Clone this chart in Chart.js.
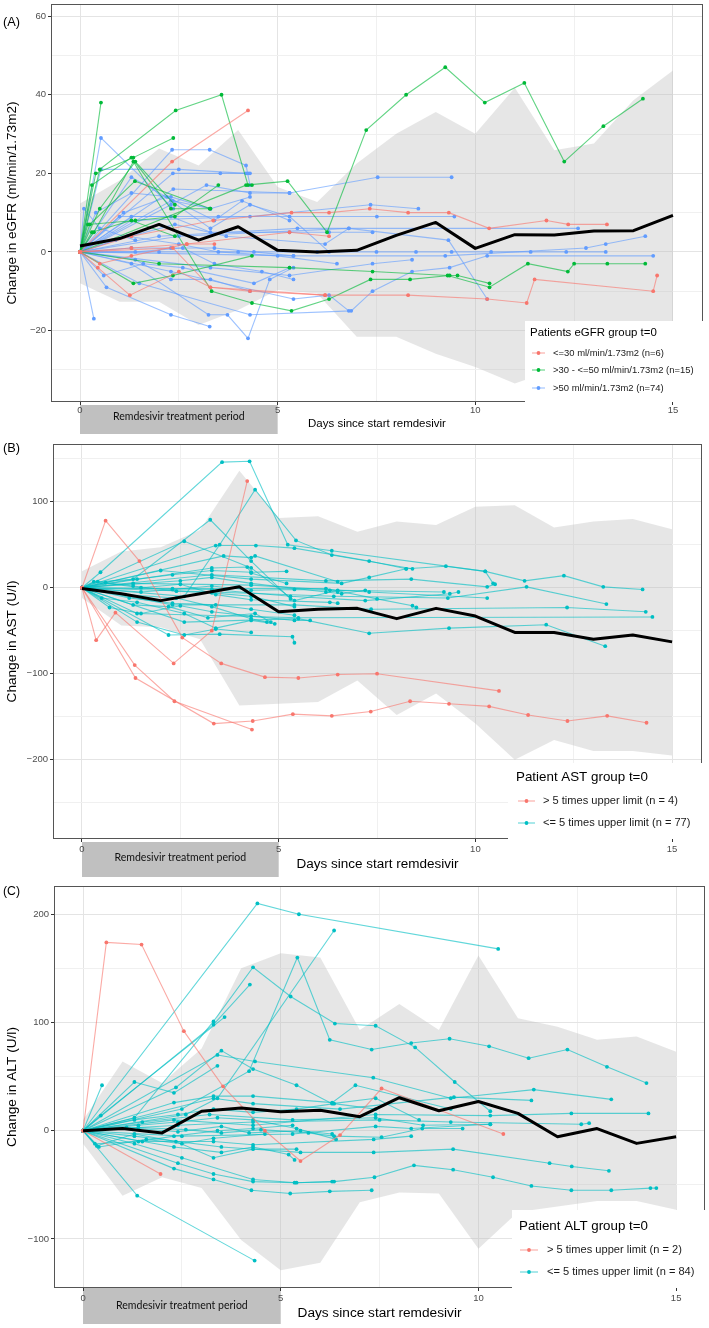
<!DOCTYPE html>
<html>
<head>
<meta charset="utf-8">
<script src="https://cdn.jsdelivr.net/npm/chart.js@4.4.0/dist/chart.umd.min.js"></script>
<style>
  html, body { margin: 0; padding: 0; background: #fff; }
  .panel { position: absolute; left: 0; width: 709px; }
</style>
</head>
<body>
<div class="panel" style="top:0;height:440px"><canvas id="chartA" width="709" height="440"></canvas></div>
<div class="panel" style="top:440px;height:440px"><canvas id="chartB" width="709" height="440"></canvas></div>
<div class="panel" style="top:880px;height:448px"><canvas id="chartC" width="709" height="448"></canvas></div>
<script>
// ── Data ──────────────────────────────────────────────────────────────────────
const DAYS = [0, 1, 2, 3, 4, 5, 6, 7, 8, 9, 10, 11, 12, 13, 14, 15];
const X_TICKS = [0, 2.5, 5, 7.5, 10, 12.5, 15];

// (A) eGFR
const A_MEAN    = [1.5, 3.4, 7.0, 3.0, 6.4, 0.4, 0, 0.4, 4.2, 7.5, 0.9, 4.4, 4.3, 5.3, 5.4, 9.3];
const A_BAND_HI = [12.3, 18.2, 26.3, 22, 31, 16.5, 12.7, 22.5, 30.1, 35.6, 30.1, 41.8, 25.9, 27.6, 38.6, 46.2];
const A_BAND_LO = [-8, -12.7, -12.7, -18.6, -14.8, -9.7, -10.6, -21.6, -21.6, -25.9, -29.3, -33.5, -30, -28, -25, -20];
const A_Y_TICKS = [-30, -20, -10, 0, 10, 20, 30, 40, 50, 60];
const A_RED = [
  [[0,0],[0.45,-4],[1.26,-11],[2.5,-5],[3.3,-9],[6.2,-11],[8.3,-11],[10.3,-12],[11.3,-13],[11.5,-7],[14.5,-10],[14.6,-6]],
  [[0,0],[2.33,23],[4.25,36]],
  [[0,0],[1.3,4],[3.37,8],[5.35,10],[6.3,10],[7.33,11],[8.3,10],[9.33,10],[10.35,6],[11.8,8],[12.35,7],[13.33,7]],
  [[0,0],[1.3,1],[2.7,2],[5.3,5],[6.3,4]],
  [[0,0],[0.5,-3],[1.3,-1],[2.7,2],[3.4,2]],
  [[0,0],[2.35,1],[3.3,-9],[4.3,-10],[6.2,-11]],
];
const A_GREEN = [
  [[0,0],[4.2,17],[5.25,18],[6.25,5],[7.24,31],[8.25,40],[9.24,47],[10.24,38],[11.24,43],[12.25,23],[13.24,32],[14.24,39]],
  [[0,0],[0.53,38]],
  [[0,0],[0.5,21],[2.42,36],[3.58,40],[4.25,17],[4.35,17]],
  [[0,0],[0.4,20],[1.35,24],[2.36,29]],
  [[0,0],[0.25,7],[1.39,18],[3.3,11]],
  [[0,0],[0.35,5],[1.35,23],[3.33,-10],[4.35,-13],[5.35,-15],[6.3,-12],[7.35,-7],[8.35,-7],[9.35,-6],[9.55,-6],[10.36,-8]],
  [[0,0],[0.3,17],[1.3,24],[2.3,11],[3.28,11]],
  [[0,0],[1.35,-8],[2.35,-6],[4.35,-1]],
  [[0,0],[0.2,7],[1.4,8],[2.4,9],[3.5,17]],
  [[0,0],[0.5,11],[1.4,23],[2.4,12]],
  [[0,0],[0.3,5],[1.3,8],[2.4,4]],
  [[0,0],[2,-3],[5.3,-4],[7.4,-5],[9.3,-6],[10.36,-9],[11.33,-3],[12.34,-5],[12.5,-3],[13.34,-3],[14.3,-3]],
];
const A_BLUE = [
  [[0,0],[0.53,29],[2.36,11]],
  [[0,0],[0.53,21],[2.5,21],[4.2,20]],
  [[0,0],[2.33,26],[3.28,26],[4.2,22],[4.3,17]],
  [[0,0],[2.35,20],[3.55,20],[4.25,20],[4.3,20]],
  [[0,0],[2.36,16],[5.3,15],[7.53,19],[9.4,19]],
  [[0,0],[1.3,8],[4.3,9],[7.35,12],[8.56,11]],
  [[0,0],[1,9],[3.5,9],[7.51,9],[9.47,9]],
  [[0,0],[2,4],[5.5,6],[12.6,6]],
  [[0,0],[2.5,4],[6.8,6],[9.32,3],[10.3,-12]],
  [[0,0],[2,0],[4,0],[6,0],[7.5,0],[8.5,0],[9.4,0],[10.4,0],[11.4,0],[12.3,0],[13.3,0]],
  [[0,0],[5.4,-1],[9.24,-1],[12.8,1],[13.3,2],[14.3,4]],
  [[0,0],[1.5,-8],[4.3,-16],[6.86,-15],[7.4,-10],[8.4,-5],[9.35,-4],[10.3,-1],[14.5,-1]],
  [[0,0],[0.35,-17]],
  [[0,0],[0.67,-9],[2.3,-16],[3.28,-19]],
  [[0,0],[1.3,-3],[3.25,-16],[3.73,-16],[4.25,-22],[4.8,-7],[5.4,-4]],
  [[0,0],[2.3,-5],[5.4,-12],[6.3,-11],[6.8,-15]],
  [[0,0],[3.3,-4],[5.3,-6],[7.4,-3],[8.4,-2]],
  [[0,0],[1.3,19],[2.35,13],[3.3,11],[4.3,14]],
  [[0,0],[0.4,10],[1.3,15],[2.3,14],[3.3,11]],
  [[0,0],[0.1,11],[0.5,6],[1.4,3]],
  [[0,0],[1.4,-2],[2.3,-7],[3.3,-7],[4.3,-10]],
  [[0,0],[2.3,12],[3.2,17],[4.3,15],[5.3,15]],
  [[0,0],[1.3,9],[2.3,9],[3.3,5],[5.3,5],[6.3,5],[7.4,5]],
  [[0,0],[1.3,1],[2.3,1],[3.4,1],[4.4,0],[5.4,-1]],
  [[0,0],[1.2,4],[2.5,2],[3.5,0],[5,-1],[6.5,-3]],
  [[0,0],[0.6,-6],[1.6,-3],[2.6,-4],[4.4,-8],[5.3,-4]],
  [[0,0],[1.1,10],[2.2,14],[3.4,8],[4.1,13],[5.3,8]],
  [[0,0],[0.9,3],[2.4,7],[3.7,4],[6.2,2],[6.8,6]],
  [[0,0],[1.4,0],[2.6,1],[3.4,-3],[4.6,-5],[5.4,-7]],
  [[0,0],[2.3,13],[3.3,6],[4.3,12],[5.3,9],[6.3,0]],
];

// (B) AST
const B_MEAN    = [-1, -7, -15, -7, 1, -28, -25, -24, -36, -24, -33, -52, -52, -60, -55, -63];
const B_BAND_HI = [19, 42, 47, 67, 136, 81, 83, 65, 77, 73, 94, 96, 70, 77, 80, 68];
const B_BAND_LO = [-12, -44, -46, -60, -137, -135, -133, -108, -148, -123, -158, -200, -177, -190, -190, -195];
const B_Y_TICKS = [-250, -200, -150, -100, -50, 0, 50, 100, 150];
const B_RED = [
  [[0,0],[0.6,78],[1.46,31],[2.55,-58],[3.54,-88],[4.65,-104],[5.5,-105],[6.5,-101],[7.5,-100],[10.6,-120]],
  [[0,0],[0.36,-61],[0.85,-29],[2.33,-88],[3.3,-50],[4.2,124]],
  [[0,0],[1.34,-90],[2.35,-132],[4.32,-165]],
  [[0,0],[1.36,-105],[3.35,-158],[4.34,-155],[5.36,-147],[6.35,-149],[7.34,-144],[8.34,-132],[9.33,-135],[10.35,-138],[11.34,-148],[12.34,-155],[13.35,-149],[14.35,-157]],
];
const B_CYAN = [
  [[0,0],[0.47,18],[3.56,146],[4.26,147],[5.23,50],[6.35,43],[10.25,19],[10.45,5]],
  [[0,0],[2.6,-10],[3.5,50],[4.4,114],[5.44,55],[6.35,38],[8.4,22]],
  [[0,0],[1.3,10],[3.26,79],[4.3,31],[5.3,-13]],
  [[0,0],[2.6,54],[4.3,23],[5.4,-15],[6.5,-3],[9.2,-5]],
  [[0,0],[3.4,49],[4.42,49],[5.4,46],[7.3,31],[8.24,22]],
  [[0,0],[2,20],[4.3,10],[6.6,5],[7.3,12],[8.24,22],[9.25,25],[10.25,19],[11.25,8],[12.25,14],[13.25,1],[14.25,-2]],
  [[0,0],[3.3,15],[6.2,8],[8.37,10],[10.3,1],[10.5,4]],
  [[0,0],[2.3,-20],[5.4,-20],[7.35,-25],[12.33,-23],[14.33,-28]],
  [[0,0],[3.3,-5],[6.4,-10],[9.3,-12],[11.3,1],[13.33,-19]],
  [[0,0],[1.4,-30],[5.5,-35],[14.5,-34]],
  [[0,0],[2.6,-40],[5.5,-36],[7.3,-53],[9.33,-47],[11.8,-43],[13.3,-68]],
  [[0,0],[2.2,-55],[3.5,-54],[5.35,-57],[5.4,-64]],
  [[0,0],[1.4,-40],[2.6,-55],[3.4,-48],[4.3,-52]],
  [[0,0],[0.5,-12],[1.4,-17],[2.6,-30],[3.4,-47],[4.3,-38],[4.9,-42]],
  [[0,0],[0.7,-23],[1.5,-30],[2.5,-21],[3.3,-28],[4.3,-33],[5.4,-38],[5.8,-38]],
  [[0,0],[0.4,7],[1.4,10],[2.3,15],[3.3,20],[4.3,18],[5.2,19]],
  [[0,0],[0.6,6],[1.3,2],[2.4,-4],[3.3,-6],[4.3,-10],[5.4,-22]],
  [[0,0],[1.5,-5],[2.3,-2],[3.3,2],[4.3,-3],[5.4,-2],[6.3,-3],[6.5,-5]],
  [[0,0],[1.2,-12],[2.3,-18],[3.4,-20],[4.3,-25],[5.4,-32]],
  [[0,0],[2.5,8],[3.3,12],[4.3,5],[6.2,-5],[6.6,-7],[7.2,-3]],
  [[0,0],[1.3,-20],[2.2,-22],[3.2,-35],[4.4,-30],[4.8,-40]],
  [[0,0],[3.6,37],[4.3,35],[4.4,37],[6.5,7]],
  [[0,0],[3.3,23],[4.2,24],[4.3,17],[5.2,5]],
  [[0,0],[3.3,-2],[5.3,-10],[7.2,-15],[9.35,-7],[9.57,-5]],
  [[0,0],[1.3,5],[4.3,3],[7.3,-5],[10.3,-12]],
  [[0,0],[2.3,-1],[6.2,-1],[7.5,-13],[8.4,-21],[8.5,-23]],
  [[0,0],[0.3,7],[1.5,0],[2.5,4],[3.4,-8],[4.3,-14],[6.3,-17],[6.5,-18]],
  [[0,0],[1.1,-8],[2.4,-12],[3.3,-22],[4.3,-36],[4.7,-40]],
];

// (C) ALT
const C_MEAN    = [0, 2, -2, 18, 21, 17.6, 19, 13, 30.5, 18.5, 27, 16, -5.6, 2, -11.7, -5.6];
const C_BAND_HI = [10, 64, 44, 76, 150, 164, 160, 93, 117, 93, 162, 104, 96, 84, 87, 73];
const C_BAND_LO = [-12, -60, -43, -53, -101, -129, -122, -66, -57, -58, -109, -75, -70, -65, -65, -73];
const C_Y_TICKS = [-100, -50, 0, 50, 100, 150, 200];
const C_RED = [
  [[0,0],[0.59,174],[1.48,172],[2.55,92],[3.54,41],[4.6,0],[5.5,-28],[6.5,-4],[7.55,39],[10.63,-3]],
  [[0,0],[1.96,-40]],
];
const C_CYAN = [
  [[0,0],[4.41,210],[5.46,200],[10.5,168]],
  [[0,0],[2.6,15],[3.4,30],[6.35,185]],
  [[0,0],[1.3,12],[3.3,101],[4.3,151],[5.25,124],[6.37,99],[7.4,97],[8.4,77],[9.4,45],[10.3,18]],
  [[0,0],[2.5,20],[4.2,55],[5.42,160],[6.24,84],[7.3,75],[8.3,81],[9.27,85],[10.27,78],[11.27,67],[12.25,75],[13.25,59],[14.25,44]],
  [[0,0],[3.3,98],[4.22,135]],
  [[0,0],[0.45,14],[3.58,105]],
  [[0,0],[1.3,45],[2.3,35],[3.4,60]],
  [[0,0],[0.48,42]],
  [[0,0],[2.35,40],[3.5,74],[4.3,57],[5.4,42],[6.3,25],[7.4,30],[8.5,10]],
  [[0,0],[3.4,70],[4.35,64],[7.34,49],[9.3,30],[11.4,38],[13.36,29]],
  [[0,0],[3.3,30],[4.3,25],[6.5,20],[9.38,31],[11.34,28]],
  [[0,0],[2.3,10],[4.3,5],[7.4,15],[10.3,14],[12.35,16],[14.3,16]],
  [[0,0],[2.4,5],[4.3,8],[7.5,10],[9.3,8],[12.6,6],[12.8,7]],
  [[0,0],[2.5,-5],[5.3,-3],[7.4,4],[8.3,2],[10.3,6]],
  [[0,0],[1.3,-5],[3.5,-15],[5.5,-20],[7.35,-20],[9.36,-17],[11.8,-30],[12.36,-33],[13.3,-37]],
  [[0,0],[1.3,-12],[2.5,-25],[4.3,-45],[5.4,-48],[6.35,-47],[7.37,-43],[8.37,-32],[9.36,-36],[10.37,-43],[11.34,-51],[12.35,-55],[13.36,-55],[14.35,-53],[14.5,-53]],
  [[0,0],[2.3,-35],[3.3,-45],[4.26,-55],[5.24,-58],[6.24,-56],[7.3,-55]],
  [[0,0],[1.37,-60],[4.34,-120]],
  [[0,0],[2.4,-30],[3.3,-40],[4.3,-47],[5.35,-48],[6.3,-47]],
  [[0,0],[0.3,-12],[1.4,-10],[2.3,-5],[3.4,0],[4.3,2],[5.3,5]],
  [[0,0],[1.3,10],[2.4,15],[3.3,20],[4.3,17],[5.4,20],[6.35,25],[7.4,20]],
  [[0,0],[1.4,5],[2.4,8],[3.4,12],[4.3,10],[5.4,2],[6.4,-8]],
  [[0,0],[0.35,-14],[1.3,-3],[2.35,-10],[3.3,-25],[4.3,-17],[5.4,-17]],
  [[0,0],[2.3,-15],[3.5,-20],[4.3,-15],[5.2,-22],[5.35,-27]],
  [[0,0],[1.4,3],[2.6,1],[3.5,-2],[4.5,1],[5.7,-2],[6.35,-5],[7.55,-6],[8.58,2],[9.6,2]],
  [[0,0],[1.5,8],[3.2,15],[5.3,10],[7.4,12],[8.6,5],[10.3,6]],
  [[0,0],[2.3,26],[3.3,32],[4.3,32],[6.3,26],[6.89,42],[9.3,20]],
  [[0,0],[1.5,-10],[3.3,-10],[4.3,-13],[7.35,-8],[8.3,-5]],
  [[0,0],[0.4,-15],[1.6,-8],[2.5,-12],[3.3,-7],[4.6,-3]],
  [[0,0],[1.1,3],[2.4,-1],[3.5,4],[4.2,-2],[5.5,0],[6.3,-3]],
];

// ── Text ──────────────────────────────────────────────────────────────────────
const X_TITLE  = "Days since start remdesivir";
const BOX_TEXT = "Remdesivir treatment period";
const A_LEGEND = { title: "Patients eGFR group t=0", labels: ["<=30 ml/min/1.73m2 (n=6)", ">30 - <=50 ml/min/1.73m2 (n=15)", ">50 ml/min/1.73m2 (n=74)"] };
const B_LEGEND = { title: "Patient AST group t=0",   labels: ["> 5 times upper limit (n = 4)", "<= 5 times upper limit (n = 77)"] };
const C_LEGEND = { title: "Patient ALT group t=0",   labels: ["> 5 times upper limit (n = 2)", "<= 5 times upper limit (n = 84)"] };

// ── Style ─────────────────────────────────────────────────────────────────────
const FONT     = "'Liberation Sans', Arial, sans-serif";
const BOX_FONT = "Lato, 'Open Sans', sans-serif";
const RED = "#F8766D", GREEN = "#00BA38", BLUE = "#619CFF", CYAN = "#00BFC4";
const GRID_MAJOR = "#e4e4e4", GRID_MINOR = "#f0f0f0";
const TICK_TXT = "#4d4d4d";

const meas = document.createElement("canvas").getContext("2d");
function fitSize(text, width, family) {
    meas.font = `100px ${family}`;
    return (100 * width) / meas.measureText(text).width;
}
function rgba(hex, a) {
    const n = parseInt(hex.slice(1), 16);
    return `rgba(${n >> 16},${(n >> 8) & 255},${n & 255},${a})`;
}
const fmt = (v) => (v < 0 ? "\u2212" + Math.abs(v) : String(v));

function trackSets(list, color) {
    return list.map((t) => ({
        data: t.map(([x, y]) => ({ x, y })),
        borderColor: rgba(color, 0.62),
        backgroundColor: color,
        pointBackgroundColor: color,
        pointBorderWidth: 0,
        pointRadius: 1.9,
        borderWidth: 1.1,
        fill: false,
        order: 10,
    }));
}

// ── Panel plugin: treatment box, frame, letter, legend ───────────────────────
function panelPlugin(p) {
    return {
        id: "panel" + p.tag,
        beforeDraw(chart) {
            const { ctx, scales: { x } } = chart;
            const x0 = x.getPixelForValue(0), x1 = x.getPixelForValue(5);
            ctx.save();
            ctx.fillStyle = "#c0c0c0";
            ctx.fillRect(x0, p.boxTop, x1 - x0, p.boxH);
            ctx.font = `${fitSize(BOX_TEXT, 132, BOX_FONT)}px ${BOX_FONT}`;
            ctx.fillStyle = "#111";
            ctx.textAlign = "center";
            ctx.textBaseline = "middle";
            ctx.fillText(BOX_TEXT, (x0 + x1) / 2, p.boxTextY);
            ctx.restore();
        },
        afterDatasetsDraw(chart) {
            const { ctx, chartArea: a } = chart;
            ctx.save();
            ctx.strokeStyle = "#555";
            ctx.lineWidth = 1;
            ctx.strokeRect(a.left + 0.5, a.top + 0.5, a.right - a.left - 1, a.bottom - a.top - 1);
            ctx.restore();
        },
        afterDraw(chart) {
            const { ctx } = chart;
            const L = p.legend;
            ctx.save();
            // panel letter
            ctx.fillStyle = "#000";
            ctx.textBaseline = "middle";
            ctx.textAlign = "left";
            ctx.font = `${fitSize("(" + p.tag + ")", 17, FONT)}px ${FONT}`;
            ctx.fillText("(" + p.tag + ")", 3, p.letterY);
            // legend
            ctx.fillStyle = "#fff";
            ctx.fillRect(L.x, L.y, L.w, L.h);
            ctx.fillStyle = "#000";
            ctx.font = `${fitSize(p.legendText.title, L.titleW, FONT)}px ${FONT}`;
            ctx.fillText(p.legendText.title, L.titleX, L.titleY);
            const es = fitSize(p.legendText.labels[0], L.entryW, FONT);
            ctx.font = `${es}px ${FONT}`;
            p.legendText.labels.forEach((lab, i) => {
                const y = L.rows[i], c = p.colors[i];
                ctx.strokeStyle = rgba(c, 0.62);
                ctx.lineWidth = 1.1;
                ctx.beginPath();
                ctx.moveTo(L.gx0, y);
                ctx.lineTo(L.gx1, y);
                ctx.stroke();
                ctx.fillStyle = c;
                ctx.beginPath();
                ctx.arc((L.gx0 + L.gx1) / 2, y, 1.9, 0, Math.PI * 2);
                ctx.fill();
                ctx.fillStyle = "#1a1a1a";
                ctx.fillText(lab, L.tx, y);
            });
            ctx.restore();
        },
    };
}

// ── Chart builder ─────────────────────────────────────────────────────────────
function buildPanel(id, p) {
    const band = (arr) => DAYS.map((d, i) => ({ x: d, y: arr[i] }));
    const datasets = [
        { data: band(p.lo), borderWidth: 0, pointRadius: 0, fill: false, order: 100 },
        { data: band(p.hi), borderWidth: 0, pointRadius: 0, fill: "-1", backgroundColor: "rgba(185,185,185,0.36)", order: 100 },
        ...p.groups.flatMap(([list, color]) => trackSets(list, color)),
        { data: band(p.mean), borderColor: "#000", borderWidth: 3, pointRadius: 0, fill: false, borderJoinStyle: "round", order: 0 },
    ];
    const isMajorY = (v) => v % p.yMajor === 0;
    const isMajorX = (v) => v % 5 === 0;

    new Chart(document.getElementById(id).getContext("2d"), {
        type: "line",
        data: { datasets },
        plugins: [panelPlugin(p)],
        options: {
            responsive: false,
            animation: false,
            devicePixelRatio: 1,
            layout: { padding: { top: p.padTop, right: p.padRight, left: 0, bottom: 0 } },
            plugins: { legend: { display: false }, tooltip: { enabled: false } },
            elements: { line: { tension: 0 } },
            scales: {
                x: {
                    type: "linear",
                    min: p.xMin,
                    max: p.xMax,
                    afterBuildTicks: (s) => { s.ticks = X_TICKS.map((v) => ({ value: v })); },
                    afterFit: (s) => { s.height = p.xAxisH; s.paddingLeft = 0; s.paddingRight = 0; },
                    grid: {
                        color: (c) => (isMajorX(c.tick.value) ? GRID_MAJOR : GRID_MINOR),
                        lineWidth: 1,
                        tickLength: 3,
                        tickColor: (c) => (isMajorX(c.tick.value) ? "#333" : "rgba(0,0,0,0)"),
                    },
                    border: { display: false },
                    ticks: {
                        autoSkip: false,
                        maxRotation: 0,
                        padding: p.xTickPad,
                        color: TICK_TXT,
                        font: { family: FONT, size: 9.5 },
                        callback: (v) => (isMajorX(v) ? fmt(v) : ""),
                    },
                    title: {
                        display: true,
                        text: X_TITLE,
                        color: "#000",
                        font: { family: FONT, size: fitSize(X_TITLE, p.xTitleW, FONT) },
                        padding: { top: 0, bottom: p.xTitlePad },
                    },
                },
                y: {
                    type: "linear",
                    min: p.yMin,
                    max: p.yMax,
                    afterBuildTicks: (s) => { s.ticks = p.yTicks.map((v) => ({ value: v })); },
                    afterFit: (s) => { s.width = p.yAxisW; s.paddingTop = 0; s.paddingBottom = 0; },
                    grid: {
                        color: (c) => (isMajorY(c.tick.value) ? GRID_MAJOR : GRID_MINOR),
                        lineWidth: 1,
                        tickLength: 3,
                        tickColor: (c) => (isMajorY(c.tick.value) ? "#333" : "rgba(0,0,0,0)"),
                    },
                    border: { display: false },
                    ticks: {
                        autoSkip: false,
                        padding: 2,
                        color: TICK_TXT,
                        font: { family: FONT, size: 9.5 },
                        callback: (v) => (isMajorY(v) ? fmt(v) : ""),
                    },
                    title: {
                        display: true,
                        text: p.yTitle,
                        color: "#000",
                        font: { family: FONT, size: fitSize(p.yTitle, p.yTitleW, FONT) },
                        padding: { top: 4, bottom: 0 },
                    },
                },
            },
        },
    });
}

buildPanel("chartA", {
    tag: "A", mean: A_MEAN, hi: A_BAND_HI, lo: A_BAND_LO,
    groups: [[A_RED, RED], [A_GREEN, GREEN], [A_BLUE, BLUE]], colors: [RED, GREEN, BLUE],
    yTicks: A_Y_TICKS, yMajor: 20, yMin: -38.2, yMax: 63.1, xMin: -0.734, xMax: 15.76,
    yTitle: "Change in eGFR (ml/min/1.73m2)", yTitleW: 203, xTitleW: 138,
    yAxisW: 51, padTop: 4, padRight: 6, xAxisH: 38, xTickPad: 0, xTitlePad: 9,
    boxTop: 405, boxH: 29, boxTextY: 417, letterY: 22,
    legendText: A_LEGEND,
    legend: { x: 525, y: 321, w: 184, h: 81, titleX: 530, titleY: 333, rows: [353, 370, 388], gx0: 532, gx1: 545, tx: 553, titleW: 127, entryW: 111 },
});
buildPanel("chartB", {
    tag: "B", mean: B_MEAN, hi: B_BAND_HI, lo: B_BAND_LO,
    groups: [[B_RED, RED], [B_CYAN, CYAN]], colors: [RED, CYAN],
    yTicks: B_Y_TICKS, yMajor: 100, yMin: -292.2, yMax: 167.1, xMin: -0.737, xMax: 15.76,
    yTitle: "Change in AST (U/l)", yTitleW: 122, xTitleW: 162,
    yAxisW: 53, padTop: 2, padRight: 7, xAxisH: 41, xTickPad: 2, xTitlePad: 8,
    boxTop: 402, boxH: 35, boxTextY: 418, letterY: 8,
    legendText: B_LEGEND,
    legend: { x: 508, y: 323, w: 201, h: 76, titleX: 516, titleY: 337, rows: [361, 383], gx0: 518, gx1: 535, tx: 543, titleW: 132, entryW: 135 },
});
buildPanel("chartC", {
    tag: "C", mean: C_MEAN, hi: C_BAND_HI, lo: C_BAND_LO,
    groups: [[C_RED, RED], [C_CYAN, CYAN]], colors: [RED, CYAN],
    yTicks: C_Y_TICKS, yMajor: 100, yMin: -145.3, yMax: 226.1, xMin: -0.734, xMax: 15.73,
    yTitle: "Change in ALT (U/l)", yTitleW: 120, xTitleW: 164,
    yAxisW: 54, padTop: 6, padRight: 4, xAxisH: 40, xTickPad: 2, xTitlePad: 7,
    boxTop: 407, boxH: 37, boxTextY: 425.7, letterY: 12,
    legendText: C_LEGEND,
    legend: { x: 512, y: 330, w: 197, h: 78, titleX: 519, titleY: 346, rows: [370, 392], gx0: 520, gx1: 538, tx: 547, titleW: 129, entryW: 135 },
});
</script>
</body>
</html>
